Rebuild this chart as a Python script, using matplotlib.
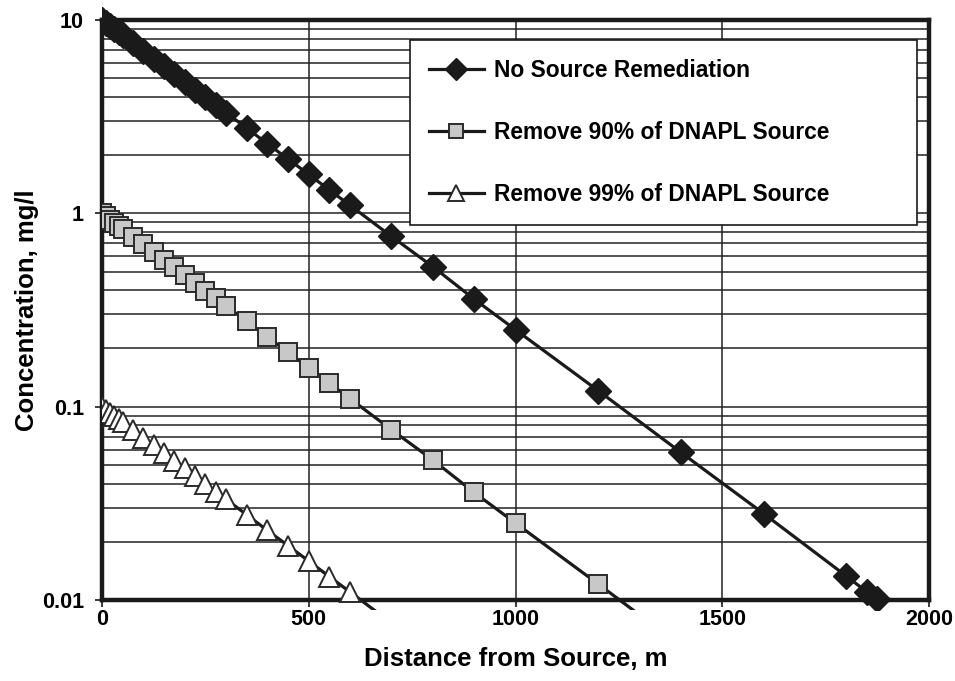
import numpy as np
import matplotlib
matplotlib.use("Agg")
import matplotlib.pyplot as plt
from matplotlib.patches import Rectangle
from matplotlib.ticker import LogLocator, NullFormatter

# --- Data ---
dist = [0, 10, 20, 30, 40, 50, 75, 100, 125, 150, 175, 200, 225, 250, 275, 300,
        350, 400, 450, 500, 550, 600, 700, 800, 900, 1000, 1200, 1400, 1600,
        1800, 1850, 1875]
conc_none = [10.0, 9.64, 9.29, 8.96, 8.63, 8.32, 7.59, 6.92, 6.31, 5.76, 5.25,
             4.79, 4.37, 3.99, 3.64, 3.32, 2.76, 2.29, 1.91, 1.59, 1.32, 1.10,
             0.76, 0.53, 0.36, 0.25, 0.121, 0.058, 0.028, 0.0133, 0.0110, 0.0101]
conc_90 = [1.0, 0.964, 0.929, 0.896, 0.863, 0.832, 0.759, 0.692, 0.631, 0.576,
           0.525, 0.479, 0.437, 0.399, 0.364, 0.332, 0.276, 0.229, 0.191, 0.159,
           0.132, 0.110, 0.076, 0.053, 0.036, 0.025, 0.0121, 0.0058]
conc_99 = [0.1, 0.0964, 0.0929, 0.0896, 0.0863, 0.0832, 0.0759, 0.0692, 0.0631,
           0.0576, 0.0525, 0.0479, 0.0437, 0.0399, 0.0364, 0.0332, 0.0276,
           0.0229, 0.0191, 0.0159, 0.0132, 0.0110, 0.0076]

labels = ["No Source Remediation", "Remove 90% of DNAPL Source",
          "Remove 99% of DNAPL Source"]
x_ticks = [0, 500, 1000, 1500, 2000]
y_ticks = [0.01, 0.1, 1, 10]
y_tick_labels = ["0.01", "0.1", "1", "10"]

plt.rcParams["font.family"] = ["Liberation Sans", "DejaVu Sans"]
plt.rcParams["font.weight"] = "bold"

fig = plt.figure(figsize=(9.55, 6.81), dpi=100)
ax = fig.add_axes([0.1068, 0.1189, 0.866, 0.8517])

ink = "#1a1a1a"
styles = [
    dict(marker="D", ms=13.5, mfc=ink, mec=ink),
    dict(marker="s", ms=12.5, mfc="#c8c8c8", mec="#2a2a2a", mew=1.4),
    dict(marker="^", ms=14, mfc="white", mec="#2a2a2a", mew=1.4),
]
series = [conc_none, conc_90, conc_99]

# clip a little outside the plot area, like the original spreadsheet chart
clip = Rectangle((0, -0.018), 1, 1.06, transform=ax.transAxes)
for y, lab, st in zip(series, labels, styles):
    ln, = ax.plot(dist[:len(y)], y, color=ink, lw=2.3, label=lab, zorder=3, **st)
    ln.set_clip_path(clip)

ax.set_yscale("log")
ax.set_xlim(0, 2000)
ax.set_ylim(0.01, 10)
ax.set_xticks(x_ticks)
ax.set_xticklabels([str(v) for v in x_ticks])
ax.set_yticks(y_ticks)
ax.set_yticklabels(y_tick_labels)
ax.yaxis.set_minor_locator(LogLocator(base=10, subs=np.arange(2, 10)))
ax.yaxis.set_minor_formatter(NullFormatter())
ax.tick_params(axis="both", which="major", length=5, width=1.2, color=ink,
               labelsize=15.5, direction="out")
ax.tick_params(axis="x", which="major", pad=1.5)
ax.tick_params(axis="y", which="major", pad=8)
ax.tick_params(axis="y", which="minor", length=0)

ax.grid(True, which="major", axis="both", color="#222222", lw=1.1, zorder=0)
ax.grid(True, which="minor", axis="y", color="#222222", lw=1.1, zorder=0)
ax.set_axisbelow(True)
for sp in ax.spines.values():
    sp.set_linewidth(3.2)
    sp.set_color(ink)

ax.set_xlabel("Distance from Source, m", fontsize=18.5, fontweight="bold", labelpad=12)
ax.set_ylabel("Concentration, mg/l", fontsize=18.5, fontweight="bold", labelpad=2)

leg = ax.legend(loc="upper left", bbox_to_anchor=(0.372, 0.9655, 0.613, 0.0),
                mode="expand", fontsize=16.4, frameon=True, fancybox=False,
                edgecolor=ink, framealpha=1, borderpad=0.85, labelspacing=1.7,
                handlelength=2.4, handletextpad=0.45, borderaxespad=0)
leg.get_frame().set_linewidth(1.2)
for h in leg.legend_handles:
    h.set_markersize(h.get_markersize() * 0.8)

fig.savefig("out.png", dpi=100)
